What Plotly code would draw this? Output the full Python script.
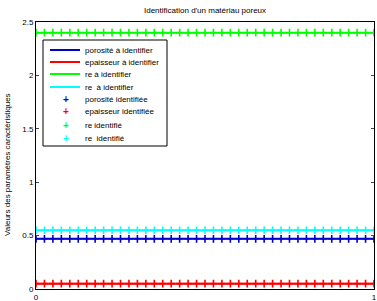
import numpy as np
import plotly.graph_objects as go

x_vals = np.linspace(0, 1, 41)
porosite_val = 0.47
epaisseur_val = 0.05
re_val = 2.4
re2_val = 0.55

series_names_lines = ["porosité à identifier", "epaisseur à identifier", "re à identifier", "re  à identifier"]
series_names_marks = ["porosité identifiée", "epaisseur identifiée", "re identifié", "re  identifié"]
series_values = [porosite_val, epaisseur_val, re_val, re2_val]
colors = ["#0000cc", "#ff0000", "#00ff00", "#00ffff"]
ytick_vals = [0, 0.5, 1, 1.5, 2, 2.5]
xtick_vals = [0, 1]

W, H = 377, 301
L, R, T, B = 36, 3, 22, 12
PW, PH = W - L - R, H - T - B


def px(x):
    return (x - L) / PW


def py(y):
    return 1 - (y - T) / PH


fig = go.Figure()
for name, v, c in zip(series_names_lines, series_values, colors):
    fig.add_trace(go.Scatter(x=x_vals, y=[v] * len(x_vals), mode="lines", name=name,
                             line=dict(color=c, width=2), showlegend=False))
for name, v, c in zip(series_names_marks, series_values, colors):
    fig.add_trace(go.Scatter(x=x_vals, y=[v] * len(x_vals), mode="markers", name=name,
                             marker=dict(symbol="cross-thin", size=5.5, color=c,
                                         line=dict(color=c, width=1.6)), showlegend=False))

# manual legend (compact, MATLAB style)
shapes = [dict(type="rect", xref="paper", yref="paper", x0=px(43), x1=px(167),
               y0=py(146), y1=py(40), line=dict(color="black", width=1),
               fillcolor="white", layer="above")]
annotations = []
row_y = [50, 62, 74, 87, 99, 112, 125, 138]
for i, (name, c) in enumerate(zip(series_names_lines, colors)):
    yy = py(row_y[i])
    shapes.append(dict(type="line", xref="paper", yref="paper", x0=px(50), x1=px(80),
                       y0=yy, y1=yy, line=dict(color=c, width=2), layer="above"))
    annotations.append(dict(xref="paper", yref="paper", x=px(83), y=yy, text=name,
                            showarrow=False, xanchor="left", yanchor="middle",
                            font=dict(size=8)))
for i, (name, c) in enumerate(zip(series_names_marks, colors)):
    yy = py(row_y[4 + i])
    annotations.append(dict(xref="paper", yref="paper", x=px(66), y=yy, text="<b>+</b>",
                            showarrow=False, xanchor="center", yanchor="middle",
                            font=dict(size=10, color=c)))
    annotations.append(dict(xref="paper", yref="paper", x=px(83), y=yy, text=name,
                            showarrow=False, xanchor="left", yanchor="middle",
                            font=dict(size=8)))
annotations.append(dict(xref="paper", yref="paper", x=px(7), y=py(165),
                        text="Valeurs des paramètres caractéristiques", textangle=-90,
                        showarrow=False, xanchor="center", yanchor="middle",
                        font=dict(size=8)))
annotations.append(dict(xref="paper", yref="paper", x=px(205), y=py(11),
                        text="Identification d'un matériau poreux",
                        showarrow=False, xanchor="center", yanchor="middle",
                        font=dict(size=8)))

fig.update_layout(
    width=W, height=H,
    margin=dict(l=L, r=R, t=T, b=B),
    paper_bgcolor="white", plot_bgcolor="white",
    font=dict(family="Liberation Sans, Arial, sans-serif", size=8, color="black"),
    showlegend=False,
    shapes=shapes,
    annotations=annotations,
)
fig.update_xaxes(range=[0, 1], tickvals=xtick_vals, ticks="inside", ticklen=3,
                 showline=True, linecolor="black", linewidth=1, mirror="ticks",
                 showgrid=False, zeroline=False, tickfont=dict(size=8), automargin=False)
fig.update_yaxes(range=[0, 2.5], tickvals=ytick_vals, ticks="inside", ticklen=3,
                 showline=True, linecolor="black", linewidth=1, mirror="ticks",
                 showgrid=False, zeroline=False, tickfont=dict(size=8), automargin=False)

fig.write_html("out.html", config={"displayModeBar": False},
               post_script="document.body.style.margin='0';")
